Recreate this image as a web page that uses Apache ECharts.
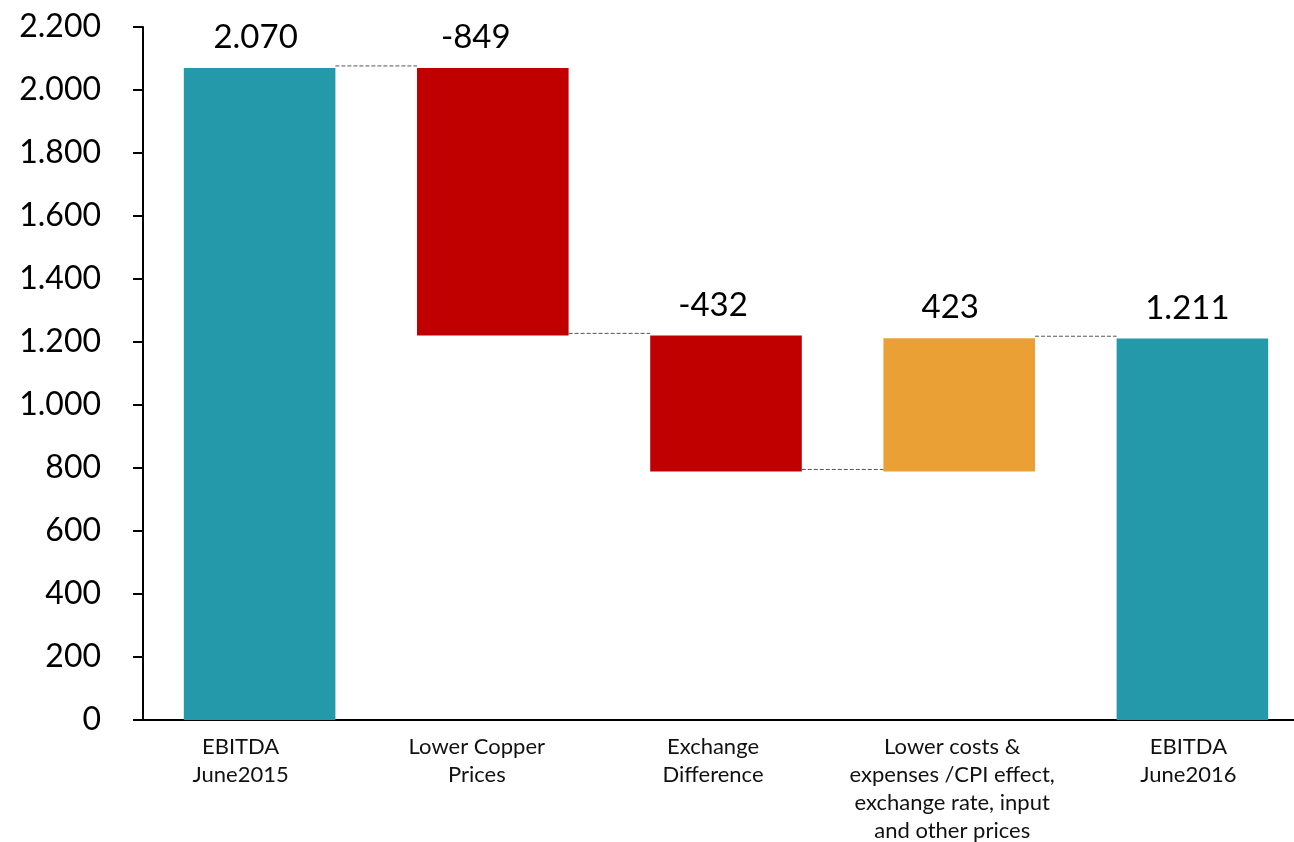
<!DOCTYPE html>
<html>
<head>
<meta charset="utf-8">
<script src="https://cdn.jsdelivr.net/npm/echarts@6/dist/echarts.min.js"></script>
<style>
html,body{margin:0;padding:0;background:#fff;overflow:hidden;}
#chart{width:1309px;height:842px;}
</style>
</head>
<body>
<div id="chart"></div>
<script>
const categories = ['EBITDA\nJune2015', 'Lower Copper\nPrices', 'Exchange\nDifference', 'Lower costs &\nexpenses /CPI effect,\nexchange rate, input\nand other prices', 'EBITDA\nJune2016'];
const changes = [2070, -849, -432, 423, 1211];
const kinds = ['total', 'delta', 'delta', 'delta', 'total'];
const yTicks = { min: 0, max: 2200, interval: 200 };

const colors = { total: '#2399AA', down: '#C00000', up: '#EBA035' };
// horizontal shifts (px, leftwards) of labels, as in the original layout
const labelShift = [19, 16, 13, 7, 4];
const valueLabelShift = [4, 17, 13, 9, 5];

// build waterfall base / visible heights
const base = [], height = [], levels = [];
let run = 0;
changes.forEach((v, i) => {
  if (kinds[i] === 'total') {
    base.push(0); height.push(v); run = v;
  } else {
    const next = run + v;
    base.push(Math.min(run, next)); height.push(Math.abs(v)); run = next;
  }
  levels.push(run);
});

const fmt = v => {
  const s = Math.abs(v).toString().replace(/\B(?=(\d{3})+(?!\d))/g, '.');
  return (v < 0 ? '-' : '') + s;
};

const rich = {};
labelShift.forEach((s, i) => {
  rich['s' + i] = { fontFamily: 'Lato', fontSize: 22, lineHeight: 28, color: '#111', padding: [0, 2 * s, 0, 0] };
});

const barWidthRatio = 0.65;
const chart = echarts.init(document.getElementById('chart'));
chart.setOption({
  animation: false,
  grid: { left: 143, top: 27, bottom: 122, right: 0, outerBoundsMode: 'none', containLabel: false },
  xAxis: {
    type: 'category',
    data: categories,
    axisLine: { lineStyle: { color: '#000', width: 2 } },
    axisTick: { show: false },
    axisLabel: {
      interval: 0, color: '#111', fontFamily: 'Lato', fontSize: 22, lineHeight: 28, margin: 13,
      formatter: (val, idx) => val.split('\n').map(l => '{s' + idx + '|' + l + '}').join('\n'),
      rich: rich
    }
  },
  yAxis: {
    type: 'value',
    min: yTicks.min, max: yTicks.max, interval: yTicks.interval,
    splitLine: { show: false },
    axisLine: { show: true, lineStyle: { color: '#000', width: 2 } },
    axisTick: { show: true, length: 10, lineStyle: { color: '#000', width: 2 } },
    axisLabel: { color: '#000', fontFamily: 'Lato', fontSize: 32, margin: 42, formatter: v => fmt(v) }
  },
  series: [
    {
      type: 'bar', stack: 'w', data: base,
      itemStyle: { color: 'transparent' }, barWidth: (barWidthRatio * 100) + '%',
      silent: true
    },
    {
      type: 'bar', stack: 'w', barWidth: (barWidthRatio * 100) + '%',
      data: height.map((h, i) => ({
        value: h,
        itemStyle: { color: kinds[i] === 'total' ? colors.total : (changes[i] < 0 ? colors.down : colors.up) },
        label: { offset: [-valueLabelShift[i], 0] }
      })),
      label: {
        show: true, position: 'top', distance: 14,
        color: '#000', fontFamily: 'Lato', fontSize: 33,
        formatter: p => fmt(changes[p.dataIndex])
      }
    },
    {
      type: 'custom',
      data: levels.slice(0, levels.length - 1).map((l, i) => [i, l]),
      renderItem: (params, api) => {
        const i = api.value(0), lv = api.value(1);
        const p1 = api.coord([i, lv]);
        const p2 = api.coord([i + 1, lv]);
        const bw = api.size([1, 0])[0] * barWidthRatio / 2;
        return {
          type: 'line',
          shape: { x1: p1[0] + bw, y1: p1[1] - 2, x2: p2[0] - bw, y2: p2[1] - 2 },
          style: { stroke: '#555', lineWidth: 1, lineDash: [4, 2] }
        };
      },
      silent: true, z: 5
    }
  ]
});
</script>
</body>
</html>
